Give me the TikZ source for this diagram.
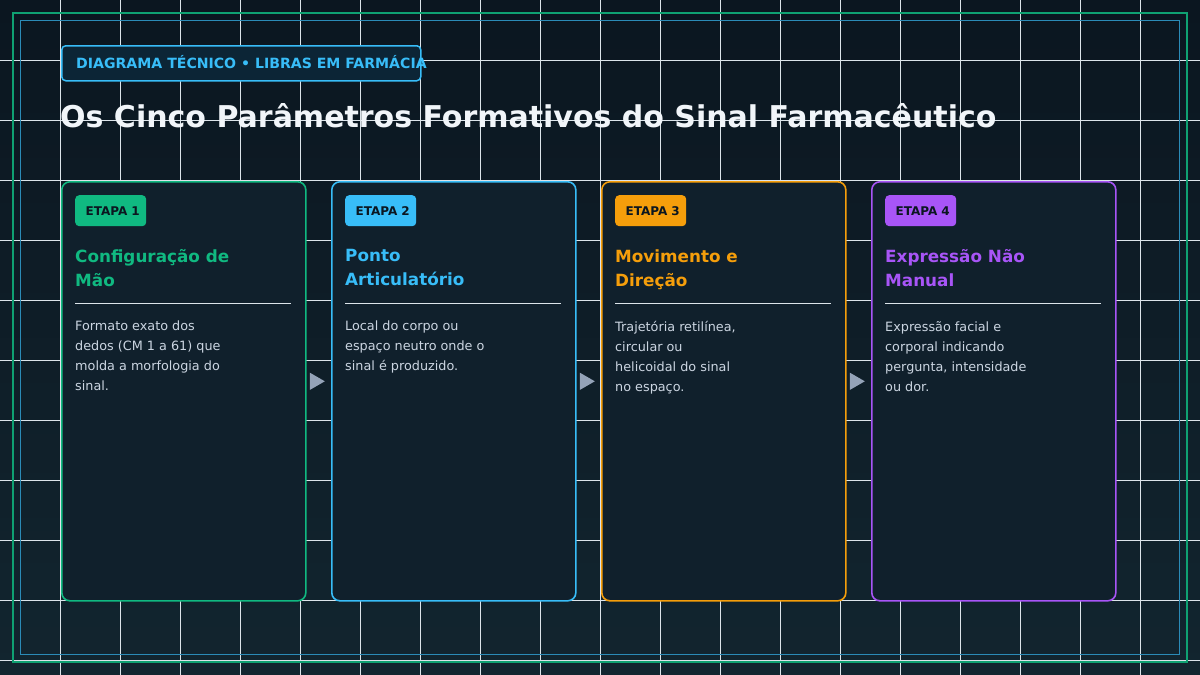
\documentclass[tikz,border=0pt]{standalone}
\usepackage{fontspec}
\setmainfont{DejaVu Sans}
\usetikzlibrary{shapes.geometric,calc}
\definecolor{bgtop}{HTML}{0B1620}
\definecolor{bgbot}{HTML}{12252F}
\definecolor{gridc}{HTML}{DCE4EA}
\definecolor{cgreen}{HTML}{10B981}
\definecolor{csky}{HTML}{38BDF8}
\definecolor{camber}{HTML}{F59E0B}
\definecolor{cpurple}{HTML}{A855F7}
\definecolor{cardfill}{HTML}{10202C}
\definecolor{badgefill}{HTML}{0C2536}
\definecolor{bodyc}{HTML}{CBD5E1}
\definecolor{titlec}{HTML}{F1F5F9}
\definecolor{arrowc}{HTML}{94A3B8}
\definecolor{darktext}{HTML}{0B1620}
\tikzset{
  card/.style={draw=#1, line width=1.6pt, fill=cardfill, rounded corners=8pt,
    minimum width=244pt, minimum height=419pt, anchor=north west, inner sep=0pt},
  stepbadge/.style={fill=#1, rounded corners=4pt, minimum width=71pt, minimum height=31pt,
    anchor=north west, inner sep=0pt, text=darktext,
    font=\fontsize{12}{13}\selectfont\bfseries},
  heading/.style={text=#1, anchor=north west, inner sep=0pt, align=left,
    font=\fontsize{16.8}{24}\selectfont\bfseries},
  body/.style={text=bodyc, anchor=north west, inner sep=0pt, align=left,
    font=\fontsize{12.8}{20}\selectfont},
  sepline/.style={draw=gridc, line width=1pt},
  flowarrow/.style={isosceles triangle, isosceles triangle apex angle=60, fill=arrowc,
    inner sep=0pt, minimum height=15pt, minimum width=16pt, shape border rotate=0}
}
\begin{document}
\begin{tikzpicture}[x=1pt,y=-1pt]
\useasboundingbox (0,0) rectangle (1200,675);
\shade[top color=bgtop, bottom color=bgbot] (0,0) rectangle (1200,675);
% grid
\foreach \x in {60,120,...,1140} \draw[gridc, line width=1pt] (\x,0) -- (\x,675);
\foreach \y in {60,120,...,660} \draw[gridc, line width=1pt] (0,\y) -- (1200,\y);
% frames
\draw[cgreen!85!bgtop, line width=2pt] (12.5,12.5) rectangle (1187,662);
\draw[csky!70!bgtop, line width=1pt] (20.5,20.5) rectangle (1179.5,654.5);
% top badge
\node[draw=csky, line width=1.5pt, fill=badgefill, rounded corners=4pt, anchor=north west,
  minimum width=359pt, minimum height=35pt, inner sep=0pt] (topbadge) at (61,45) {};
\node[anchor=base west, inner sep=0pt, text=csky,
  font=\fontsize{14.1}{16}\selectfont\bfseries]
  (toptext) at (76,68) {DIAGRAMA TÉCNICO • LIBRAS EM FARMÁCIA};
% title
\node[anchor=base west, inner sep=0pt, text=titlec,
  font=\fontsize{30}{34}\selectfont\bfseries]
  (title) at (60,127.5) {Os Cinco Parâmetros Formativos do Sinal Farmacêutico};
% cards
\foreach \i/\x/\c in {1/61/cgreen,2/331/csky,3/601/camber,4/871/cpurple}{
  \node[card=\c] (card\i) at (\x,181) {};
  \node[stepbadge=\c] (badge\i) at (\x+14,195) {\hspace*{4pt}ETAPA \i};
  \draw[sepline] (\x+14,303) -- (\x+230,303);
}
\node[heading=cgreen] (h1) at (75,249.5) {Configuração de\\Mão};
\node[heading=csky] (h2) at (345,249.5) {Ponto\\Articulatório};
\node[heading=camber] (h3) at (615,249.5) {Movimento e\\Direção};
\node[heading=cpurple] (h4) at (885,249.5) {Expressão Não\\Manual};
\node[body] (b1) at (75,321) {Formato exato dos\\dedos (CM 1 a 61) que\\molda a morfologia do\\sinal.};
\node[body] (b2) at (345,321) {Local do corpo ou\\espaço neutro onde o\\sinal é produzido.};
\node[body] (b3) at (615,321) {Trajetória retilínea,\\circular ou\\helicoidal do sinal\\no espaço.};
\node[body] (b4) at (885,321) {Expressão facial e\\corporal indicando\\pergunta, intensidade\\ou dor.};
% arrows
\foreach \a/\b in {1/2,2/3,3/4}{
  \node[flowarrow] (arr\a) at ($($(card\a.east)!0.5!(card\b.west)$)+(-4,-10)$) {};
}
\end{tikzpicture}
\end{document}
